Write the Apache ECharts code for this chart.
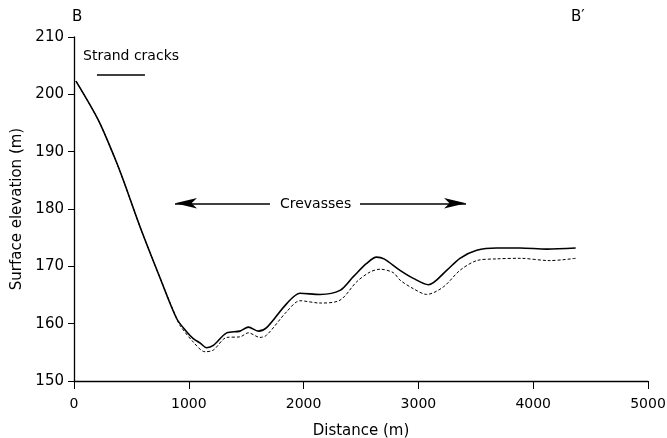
<!DOCTYPE html>
<html><head><meta charset="utf-8">
<script src="https://cdn.jsdelivr.net/npm/echarts@6/dist/echarts.min.js"></script>
<style>html,body{margin:0;padding:0;background:#fff}#c{width:667px;height:438px}</style>
</head><body><div id="c"></div>
<script>
// Solid profile (surface elevation)
const solidX = [17, 212, 357, 430, 575, 749, 894, 981, 1039, 1100, 1156, 1214, 1330, 1446, 1519, 1606, 1678, 1853, 1969, 2143, 2317, 2433, 2549, 2636, 2700, 2840, 2956, 3087, 3246, 3362, 3508, 3682, 3885, 4118, 4370];
const solidY = [202.3, 195.5, 188.8, 185.0, 176.9, 168.0, 160.9, 158.6, 157.4, 156.6, 155.8, 156.2, 158.4, 158.7, 159.4, 158.7, 159.3, 163.5, 165.3, 165.1, 165.8, 168.2, 170.5, 171.6, 171.3, 169.3, 167.9, 166.8, 169.3, 171.4, 172.8, 173.2, 173.2, 173.0, 173.2];
// Dashed profile
const dashX = [17, 212, 357, 430, 575, 749, 894, 923, 1039, 1141, 1214, 1330, 1446, 1519, 1620, 1678, 1853, 1969, 2143, 2317, 2462, 2578, 2666, 2781, 2840, 2956, 3072, 3217, 3362, 3508, 3682, 3885, 4146, 4370];
const dashY = [202.3, 195.5, 188.8, 185.0, 176.9, 168.0, 160.9, 159.7, 156.8, 155.1, 155.4, 157.6, 157.7, 158.4, 157.6, 158.0, 162.1, 164.0, 163.6, 164.1, 167.3, 169.0, 169.5, 168.9, 167.6, 166.1, 165.1, 166.4, 169.3, 171.0, 171.3, 171.4, 171.0, 171.4];
// Annotation ranges
const strandRange = [200, 618];
const strandElev = 203.5;
const crevLeft = [1707, 880];
const crevRight = [2491, 3415];
const crevElev = 181.0;
const xTicks = [0, 1000, 2000, 3000, 4000, 5000];
const yTicks = [150, 160, 170, 180, 190, 200, 210];

const font = 'DejaVu Sans';
const chart = echarts.init(document.getElementById('c'));
chart.setOption({
  animation: false,
  backgroundColor: '#fff',
  textStyle: {fontFamily: font, color: '#000'},
  grid: {left: 74, right: 19, top: 37, bottom: 57, containLabel: false, outerBoundsMode: 'none'},
  xAxis: {
    type: 'value', min: xTicks[0], max: xTicks[xTicks.length - 1], interval: 1000,
    name: 'Distance (m)', nameLocation: 'middle', nameGap: 43,
    nameTextStyle: {fontSize: 15, color: '#000', fontFamily: font},
    axisLine: {lineStyle: {color: '#000', width: 1.3}},
    axisTick: {length: 8, lineStyle: {color: '#000'}},
    axisLabel: {fontSize: 14, color: '#000', margin: 16, fontFamily: font, formatter: v => String(v)},
    splitLine: {show: false}
  },
  yAxis: {
    type: 'value', min: yTicks[0], max: yTicks[yTicks.length - 1], interval: 10,
    name: 'Surface elevation (m)', nameLocation: 'middle', nameGap: 46,
    nameTextStyle: {fontSize: 15, color: '#000', fontFamily: font},
    axisLine: {show: true, lineStyle: {color: '#000', width: 1.3}},
    axisTick: {show: true, length: 6, lineStyle: {color: '#000'}},
    axisLabel: {fontSize: 15, color: '#000', margin: 10, fontFamily: font},
    splitLine: {show: false}
  },
  graphic: [
    {type: 'text', left: 72, top: 10, style: {text: 'B', font: '15px DejaVu Sans', fill: '#000'}},
    {type: 'text', left: 571, top: 10, style: {text: 'B′', font: '15px DejaVu Sans', fill: '#000'}},
    {type: 'text', left: 83, top: 49, style: {text: 'Strand cracks', font: '14px DejaVu Sans', fill: '#000'}},
    {type: 'text', left: 280, top: 197, style: {text: 'Crevasses', font: '14px DejaVu Sans', fill: '#000'}}
  ],
  series: [
    {
      type: 'line', symbol: 'none', smooth: 0.3,
      data: solidX.map((x, i) => [x, solidY[i]]),
      lineStyle: {color: '#000', width: 1.6},
      markLine: {
        silent: true, animation: false,
        label: {show: false},
        data: [
          [{coord: [strandRange[0], strandElev], symbol: 'none'}, {coord: [strandRange[1], strandElev], symbol: 'none'}],
          [{coord: [crevLeft[0], crevElev], symbol: 'none'}, {coord: [crevLeft[1], crevElev], symbol: 'arrow', symbolSize: [8, 22]}],
          [{coord: [crevRight[0], crevElev], symbol: 'none'}, {coord: [crevRight[1], crevElev], symbol: 'arrow', symbolSize: [8, 22]}]
        ],
        lineStyle: {color: '#000', width: 1.5, type: 'solid'},
        itemStyle: {color: '#000'}
      }
    },
    {
      type: 'line', symbol: 'none', smooth: 0.3,
      data: dashX.map((x, i) => [x, dashY[i]]),
      lineStyle: {color: '#000', width: 1, type: [3, 2]}
    }
  ]
});
</script></body></html>
